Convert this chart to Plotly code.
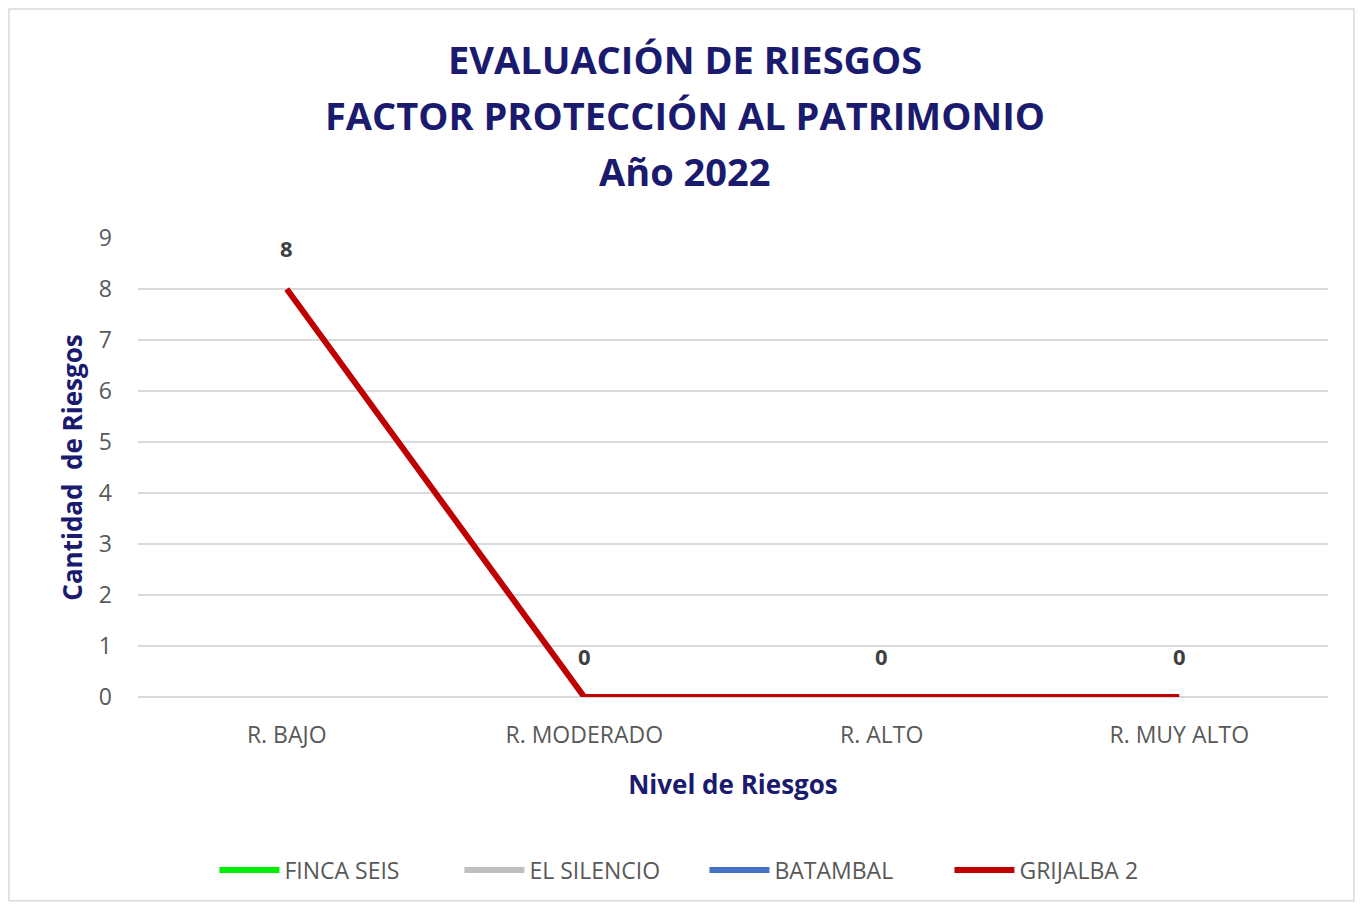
import plotly.graph_objects as go

# data
categories = ['R. BAJO', 'R. MODERADO', 'R. ALTO', 'R. MUY ALTO']
series_names = ['FINCA SEIS', 'EL SILENCIO', 'BATAMBAL', 'GRIJALBA 2']
finca_seis = [None, None, None, None]
el_silencio = [None, None, None, None]
batambal = [None, None, None, None]
grijalba_2 = [8, 0, 0, 0]
y_ticks = [0, 1, 2, 3, 4, 5, 6, 7, 8, 9]
title_lines = ['EVALUACIÓN DE RIESGOS', 'FACTOR PROTECCIÓN AL PATRIMONIO', 'Año 2022']

colors = ['#00EE00', '#BFBFBF', '#4472C4', '#C00000']
navy = '#1A1A6E'
font_family = 'Open Sans'

fig = go.Figure()

for name, vals, color in zip(series_names, [finca_seis, el_silencio, batambal, grijalba_2], colors):
    fig.add_trace(go.Scatter(
        x = categories, y = vals, name = name, mode = 'lines',
        line = dict(color = color, width = 6)
    ))

# data labels for the visible series
for cat, val in zip(categories, grijalba_2):
    fig.add_annotation(
        x = cat, y = val, text = '<b>%d</b>' % val, showarrow = False,
        yshift = 41, font = dict(size = 22, color = '#404040', family = font_family)
    )

# title, one annotation per line
for i, line in enumerate(title_lines):
    fig.add_annotation(
        xref = 'paper', yref = 'paper', x = 0.46, y = 1.39 - i * 0.122,
        text = '<b>%s</b>' % line, showarrow = False, xanchor = 'center', yanchor = 'middle',
        font = dict(size = 38, color = navy, family = font_family)
    )

fig.update_layout(
    width = 1348, height = 895,
    margin = dict(l = 130, r = 28, t = 230, b = 206),
    paper_bgcolor = 'white', plot_bgcolor = 'white',
    font = dict(family = font_family, color = '#595959'),
    showlegend = True,
    legend = dict(
        orientation = 'h', x = 0.476, xanchor = 'center', y = -0.33, yanchor = 'top',
        font = dict(size = 23, color = '#595959'), itemwidth = 60, traceorder = 'normal',
        entrywidth = 170, entrywidthmode = 'pixels'
    ),
    shapes = [dict(
        type = 'rect', xref = 'paper', yref = 'paper',
        x0 = -0.1084, x1 = 1.0218, y0 = -0.444, y1 = 1.499,
        line = dict(color = '#D9D9D9', width = 1.5), layer = 'below'
    )]
)

fig.update_xaxes(
    range = [-0.5, 3.5], showgrid = False, showline = False, ticks = '',
    tickfont = dict(size = 23, color = '#595959'), ticklabelstandoff = 22,
    title = dict(text = '<b>Nivel de Riesgos</b>', font = dict(size = 26, color = navy), standoff = 26)
)
fig.update_yaxes(
    range = [0, 9], tickvals = y_ticks, showgrid = True, gridcolor = '#D9D9D9', gridwidth = 1.5,
    zeroline = True, zerolinecolor = '#D9D9D9', zerolinewidth = 1.5,
    tickfont = dict(size = 23, color = '#595959'), ticklabelstandoff = 25,
    title = dict(text = '<b>Cantidad  de Riesgos</b>', font = dict(size = 26, color = navy), standoff = 8)
)

fig.write_html("out.html")
